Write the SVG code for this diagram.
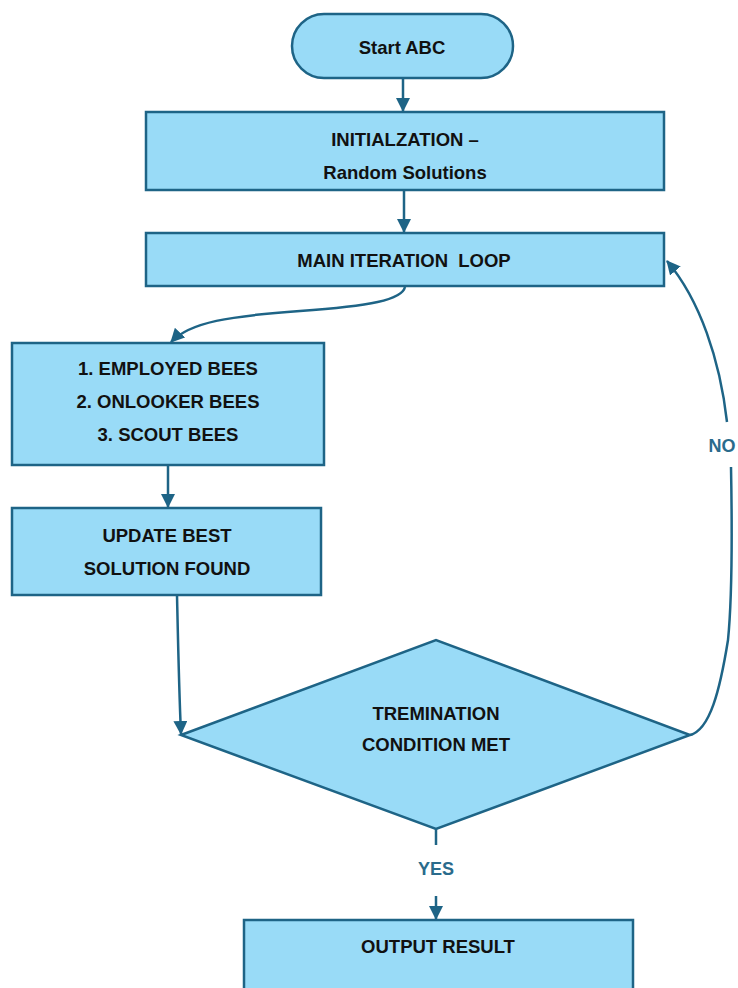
<svg xmlns="http://www.w3.org/2000/svg" width="738" height="988" viewBox="0 0 738 988">
<style>
.box{fill:#99dbf7;stroke:#1e6486;stroke-width:2.5}
.t{font-family:"Liberation Sans",Arial,sans-serif;font-weight:bold;font-size:18.5px;fill:#111;text-anchor:middle}
.lbl{font-family:"Liberation Sans",Arial,sans-serif;font-weight:bold;font-size:18px;fill:#2a6b8c;text-anchor:middle}
.c{fill:none;stroke:#1e6486;stroke-width:2.5}
</style>
<defs>
<marker id="ah" markerUnits="userSpaceOnUse" markerWidth="14" markerHeight="14" viewBox="0 0 14 14" refX="13" refY="7" orient="auto">
<path d="M0,0 L14,7 L0,14 Z" fill="#1e6486"/>
</marker>
</defs>
<rect width="738" height="988" fill="#fff"/>
<g id="start">
<rect class="box" x="292" y="14" width="221" height="64" rx="32" ry="32"/>
<text class="t" x="402" y="54">Start ABC</text>
</g>
<g id="init">
<rect class="box" x="146" y="112" width="518" height="78"/>
<text class="t" x="405" y="146">INITIALZATION –</text>
<text class="t" x="405" y="179">Random Solutions</text>
</g>
<g id="main">
<rect class="box" x="146" y="233" width="518" height="53"/>
<text class="t" x="404" y="267" xml:space="preserve">MAIN ITERATION  LOOP</text>
</g>
<g id="bees">
<rect class="box" x="12" y="343" width="312" height="122"/>
<text class="t" x="168" y="375">1. EMPLOYED BEES</text>
<text class="t" x="168" y="408">2. ONLOOKER BEES</text>
<text class="t" x="168" y="441">3. SCOUT BEES</text>
</g>
<g id="update">
<rect class="box" x="12" y="508" width="309" height="87"/>
<text class="t" x="167" y="542">UPDATE BEST</text>
<text class="t" x="167" y="575">SOLUTION FOUND</text>
</g>
<g id="term">
<polygon class="box" points="181,735 436,640 690,735 436,829"/>
<text class="t" x="436" y="720">TREMINATION</text>
<text class="t" x="436" y="751">CONDITION MET</text>
</g>
<g id="output">
<rect class="box" x="244" y="920" width="389" height="80"/>
<text class="t" x="438" y="953">OUTPUT RESULT</text>
</g>
<g id="connectors">
<path class="c" d="M403,78 L403,111" marker-end="url(#ah)"/>
<path class="c" d="M404,190 L404,232" marker-end="url(#ah)"/>
<path class="c" d="M405,287 C402,300 370,306 300,311 C230,316 190,322 171,342" marker-end="url(#ah)"/>
<path class="c" d="M168,465 L168,507" marker-end="url(#ah)"/>
<path class="c" d="M177,595 C178,640 179,690 181,734" marker-end="url(#ah)"/>
<path class="c" d="M436,829 L436,845"/>
<path class="c" d="M436,896 L436,919" marker-end="url(#ah)"/>
<path class="c" d="M690,735 C710,730 720,690 728,640 C732,600 732,520 731,467"/>
<path class="c" d="M727,422 C720,360 700,300 667,261" marker-end="url(#ah)"/>
<text class="lbl" x="436" y="875">YES</text>
<text class="lbl" x="722" y="452">NO</text>
</g>
</svg>
